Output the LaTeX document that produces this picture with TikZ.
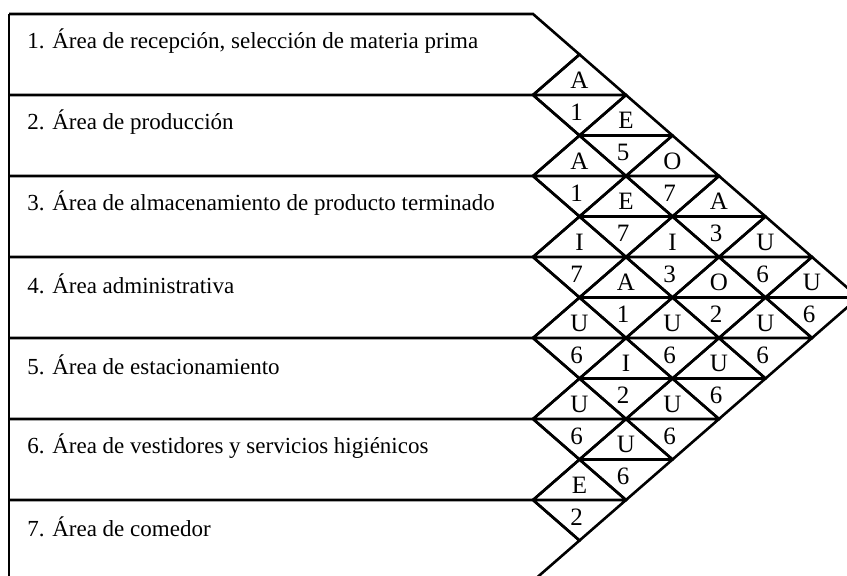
\documentclass[tikz,border=0pt]{standalone}
\usepackage{fontspec}
\setmainfont{Liberation Serif}

\begin{document}
\begin{tikzpicture}[x=0.5pt,y=-0.5pt,
		chart/.style={line width=1.3pt,line join=miter},
		area/.style={anchor=west,inner sep=0pt,font=\fontsize{11.5}{13}\selectfont},
		rel/.style={inner sep=0pt,font=\fontsize{12.5}{14}\selectfont}]
	\useasboundingbox (0,0) rectangle (847,576);

	% areas (rows)
	\foreach \k/\txt in {1/{1. Área de recepción, selección de materia prima},
			2/{2. Área de producción},
			3/{3. Área de almacenamiento de producto terminado},
			4/{4. Área administrativa},
			5/{5. Área de estacionamiento},
			6/{6. Área de vestidores y servicios higiénicos},
			7/{7. Área de comedor}} {
		\pgfmathsetmacro{\yt}{14+81*(\k-1)}
		\pgfmathsetmacro{\yb}{\yt+81}
		\node[area] (area\k) at (27,\yt+27) {\txt};
		\draw[chart] (9,\yt) -- (533,\yt) -- (579.5,\yt+40.5) -- (533,\yb);
	}
	\draw[chart] (9,14) -- (9,581) -- (533,581);

	% relationship diamonds
	\foreach \i/\j/\cls/\rsn in {1/2/A/1, 1/3/E/5, 1/4/O/7, 1/5/A/3, 1/6/U/6, 1/7/U/6,
			2/3/A/1, 2/4/E/7, 2/5/I/3, 2/6/O/2, 2/7/U/6,
			3/4/I/7, 3/5/A/1, 3/6/U/6, 3/7/U/6,
			4/5/U/6, 4/6/I/2, 4/7/U/6,
			5/6/U/6, 5/7/U/6,
			6/7/E/2} {
		\pgfmathsetmacro{\cx}{533+46.5*(\j-\i)}
		\pgfmathsetmacro{\cy}{14+40.5*(\i+\j-1)}
		\draw[chart] (\cx-46.5,\cy) -- (\cx,\cy-40.5) -- (\cx+46.5,\cy) -- (\cx,\cy+40.5) -- cycle
			(\cx-46.5,\cy) -- (\cx+46.5,\cy);
		\node[rel] (cls\i\j) at (\cx,\cy-15) {\cls};
		\node[rel] (rsn\i\j) at (\cx-3,\cy+17) {\rsn};
	}
\end{tikzpicture}
\end{document}
